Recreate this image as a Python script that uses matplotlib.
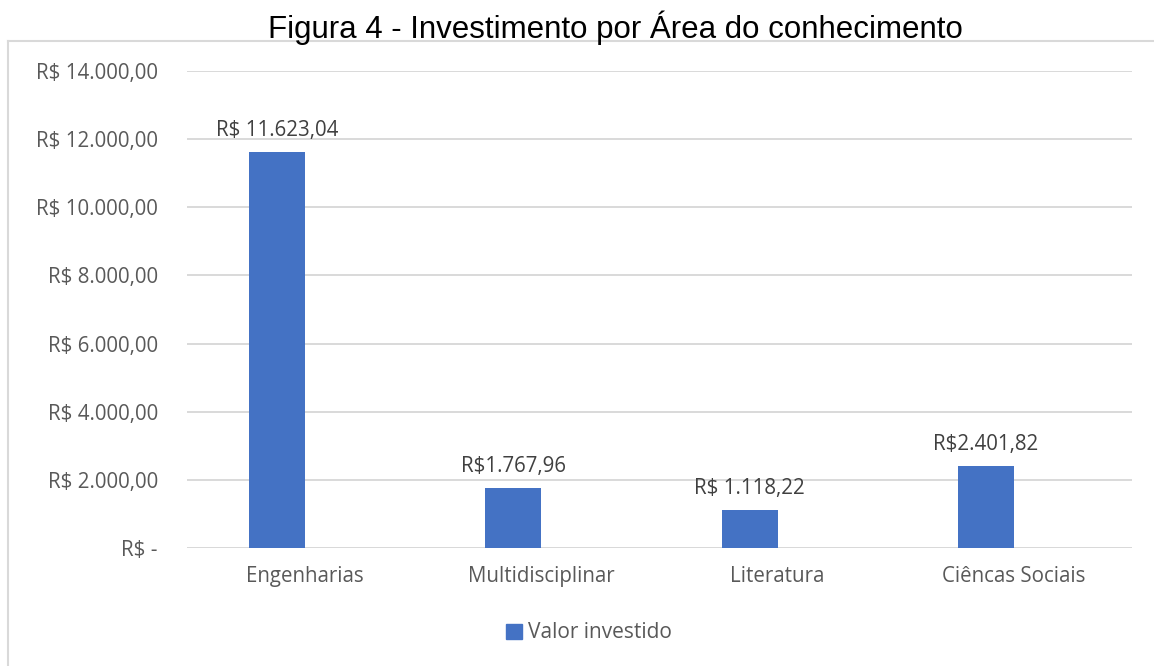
import matplotlib
matplotlib.use("Agg")
import matplotlib.pyplot as plt
from matplotlib.patches import Patch
import numpy as np

categories = ["Engenharias", "Multidisciplinar", "Literatura", "Ciêncas Sociais"]
values = [11623.04, 1767.96, 1118.22, 2401.82]
value_labels = ["R$ 11.623,04", "R$1.767,96", "R$ 1.118,22", "R$2.401,82"]
yticks = [0, 2000, 4000, 6000, 8000, 10000, 12000, 14000]
ytick_labels = ["R$ -", "R$ 2.000,00", "R$ 4.000,00", "R$ 6.000,00",
                "R$ 8.000,00", "R$ 10.000,00", "R$ 12.000,00", "R$ 14.000,00"]
series_name = "Valor investido"

W, H = 1154, 666
fig = plt.figure(figsize=(W / 100, H / 100), dpi=100)
fig.patch.set_facecolor("white")

# frame (open on right/bottom as in the cropped reference)
fig.add_artist(plt.Line2D([8 / W, 8 / W], [0, 1 - 41 / H], color="#d9d9d9", lw=1.5,
                          transform=fig.transFigure))
fig.add_artist(plt.Line2D([8 / W, 1], [1 - 41 / H, 1 - 41 / H], color="#d9d9d9", lw=1.5,
                          transform=fig.transFigure))

fig.text(615 / W, 1 - 28 / H, "Figura 4 - Investimento por Área do conhecimento",
         ha="center", va="center", fontsize=22.5, family="Liberation Sans", color="black")

left, right, top, bottom = 187, 1132, 71, 548
ax = fig.add_axes([left / W, 1 - bottom / H, (right - left) / W, (bottom - top) / H])

x = np.arange(len(categories))
bw = 0.237
bars = ax.bar(x - bw / 2, values, width=bw, color="#4472c4", zorder=3)

for xi, v, lab in zip(x, values, value_labels):
    ax.text(xi - bw / 2, v + 320, lab, ha="center", va="bottom", fontsize=14.8,
            family="Open Sans", color="#404040")

ax.set_xlim(-0.5, len(categories) - 0.5)
ax.set_ylim(0, 14000)
ax.set_yticks(yticks)
ax.set_yticklabels(ytick_labels, family="Open Sans", fontsize=14.8, color="#595959")
ax.set_xticks(x)
ax.set_xticklabels(categories, family="Open Sans", fontsize=14.8, color="#595959")
ax.tick_params(axis="both", length=0)
ax.tick_params(axis="y", pad=21)
ax.tick_params(axis="x", pad=13)
ax.grid(axis="y", color="#d9d9d9", lw=1.4, zorder=0)
for s in ax.spines.values():
    s.set_visible(False)
ax.axhline(0, color="#d9d9d9", lw=1.4, zorder=2)

handles = [Patch(color="#4472c4", label=series_name)]
fig.legend(handles=handles, loc="center", bbox_to_anchor=(589 / W, 1 - 633 / H),
           frameon=False, prop={"family": "Open Sans", "size": 15},
           labelcolor="#595959", handlelength=0.75, handleheight=0.75, handletextpad=0.3)

fig.savefig("out.png", dpi=100, facecolor="white")
